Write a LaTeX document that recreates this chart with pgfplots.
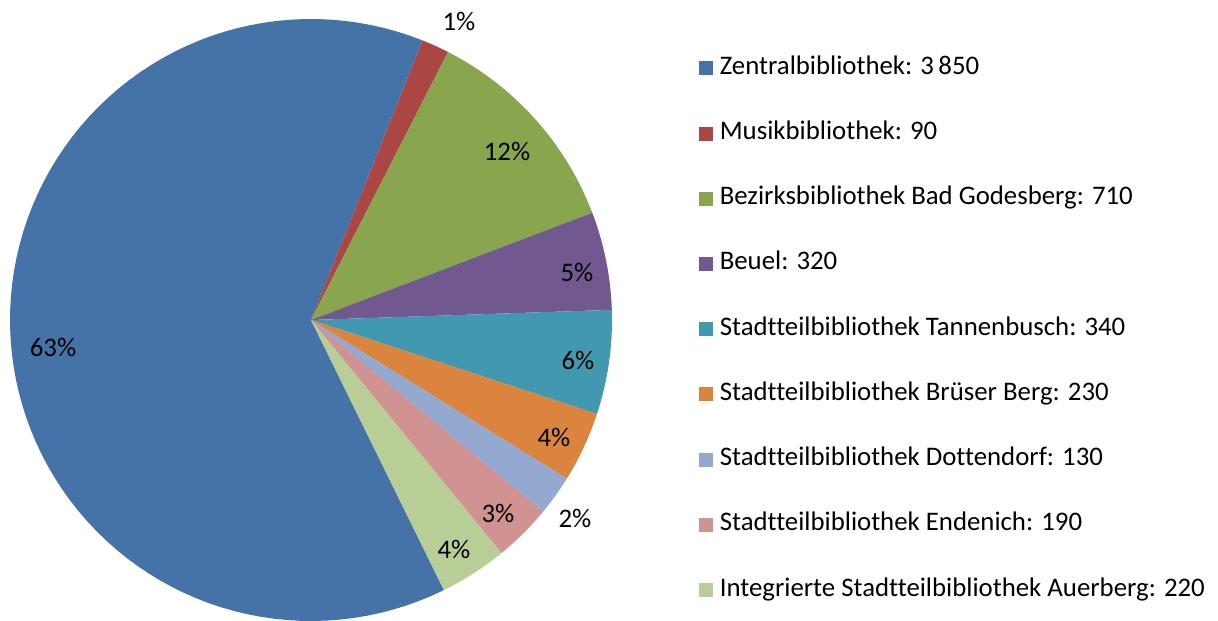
\documentclass[border=0pt]{standalone}
\usepackage{pgfplots}
\pgfplotsset{compat=1.18}
\usepackage{fontspec}
\setmainfont{Carlito}[Ligatures=NoCommon]
\definecolor{c1}{HTML}{4572A7}
\definecolor{c2}{HTML}{AA4643}
\definecolor{c3}{HTML}{89A54E}
\definecolor{c4}{HTML}{71588F}
\definecolor{c5}{HTML}{4198AF}
\definecolor{c6}{HTML}{DB843D}
\definecolor{c7}{HTML}{93A9CF}
\definecolor{c8}{HTML}{D19392}
\definecolor{c9}{HTML}{B9CD96}
% pie geometry in pixel units of the reference
\def\cx{311}\def\cy{300}\def\rad{301}
\pgfmathsetmacro{\total}{3850+90+710+320+340+230+130+190+220}
\xdef\cum{153.8}
\newcommand{\slice}[4]{%
  \pgfmathsetmacro{\angA}{\cum}%
  \pgfmathsetmacro{\angB}{\cum+#1/\total*360}%
  \xdef\cum{\angB}%
  \edef\doplot{\noexpand\addplot[fill=#2, draw=none, domain=\angA:\angB, samples=90]
    ({\cx+\rad*sin(x)},{\cy+\rad*cos(x)}) -- (axis cs:\cx,\cy) -- cycle;}%
  \doplot
  \addlegendentry{#3: #4}%
}
\begin{document}
\begin{tikzpicture}
\begin{axis}[name=ax,
  width=609pt, height=310pt, scale only axis,
  xmin=0, xmax=1218, ymin=0, ymax=620,
  hide axis, clip=false,
  legend cell align=left,
  legend image code/.code={\fill[#1, draw=none] (0pt,-3.5pt) rectangle (7pt,3.5pt);},
  legend style={at={(axis cs:699,565)}, anchor=north west, draw=none, fill=none,
    inner sep=0pt, font=\fontsize{13.4}{15}\selectfont, row sep=19.6pt,
    column sep=3.2pt,
    nodes={inner sep=0pt, text height=9.5pt, text depth=3.5pt}},
]
\slice{3850}{c1}{Zentralbibliothek}{3\,850}
\slice{90}{c2}{Musikbibliothek}{90}
\slice{710}{c3}{Bezirksbibliothek Bad Godesberg}{710}
\slice{320}{c4}{Beuel}{320}
\slice{340}{c5}{Stadtteilbibliothek Tannenbusch}{340}
\slice{230}{c6}{Stadtteilbibliothek Brüser Berg}{230}
\slice{130}{c7}{Stadtteilbibliothek Dottendorf}{130}
\slice{190}{c8}{Stadtteilbibliothek Endenich}{190}
\slice{220}{c9}{Integrierte Stadtteilbibliothek Auerberg}{220}
\addplot[draw=none, forget plot, nodes near coords, point meta=explicit symbolic,
  nodes near coords style={anchor=center, font=\fontsize{13.4}{15}\selectfont, text=black}]
  coordinates {
  (53,273) [63\%]
  (459,599) [1\%]
  (507,469) [12\%]
  (577,348) [5\%]
  (578,260) [6\%]
  (554,183) [4\%]
  (575,102) [2\%]
  (498,107) [3\%]
  (454,71) [4\%]
};
\end{axis}
\pgfresetboundingbox
\useasboundingbox (ax.south west) rectangle (ax.north east);
\end{tikzpicture}
\end{document}
